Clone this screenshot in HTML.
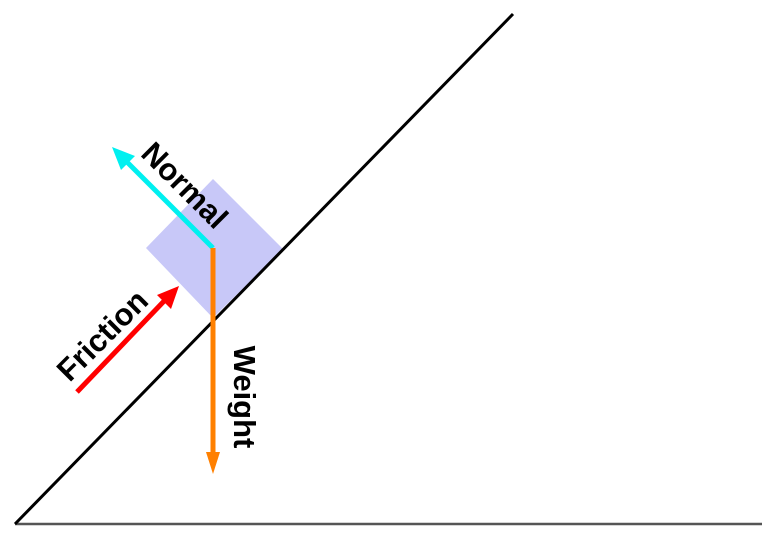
<!DOCTYPE html>
<html><head><meta charset="utf-8">
<style>html,body{margin:0;padding:0;background:#fff;}svg{display:block;}</style>
</head><body>
<svg width="777" height="543" viewBox="0 0 777 543" xmlns="http://www.w3.org/2000/svg">
  <line x1="15" y1="524" x2="762" y2="524" stroke="#555" stroke-width="2.5"/>
  <polygon points="146,248 213,179 283,249 213,318" fill="#c8c8f8"/>
  <line x1="15" y1="524" x2="513" y2="14" stroke="#000" stroke-width="3"/>
  <g>
    <line x1="213" y1="248" x2="124" y2="159" stroke="#00f0f0" stroke-width="5"/>
    <polygon points="112,147 135,156 121,170" fill="#00f0f0"/>
  </g>
  <g>
    <line x1="213" y1="248" x2="213" y2="458" stroke="#ff8000" stroke-width="5"/>
    <polygon points="206,452 220,452 213,474" fill="#ff8000"/>
  </g>
  <g>
    <line x1="77" y1="392" x2="167" y2="298" stroke="#ff0000" stroke-width="5"/>
    <polygon points="179,286 171,309 157,295" fill="#ff0000"/>
  </g>
  <text x="183" y="187" transform="rotate(45 183 187)" text-anchor="middle" dominant-baseline="middle" font-family="Liberation Sans, sans-serif" font-weight="bold" font-size="31" fill="#000">Normal</text>
  <text x="104" y="337" transform="rotate(-45 104 337)" text-anchor="middle" dominant-baseline="middle" font-family="Liberation Sans, sans-serif" font-weight="bold" font-size="31" fill="#000">Friction</text>
  <text x="242" y="397" transform="rotate(90 242 397)" text-anchor="middle" dominant-baseline="middle" font-family="Liberation Sans, sans-serif" font-weight="bold" font-size="31" fill="#000">Weight</text>
</svg>
</body></html>
